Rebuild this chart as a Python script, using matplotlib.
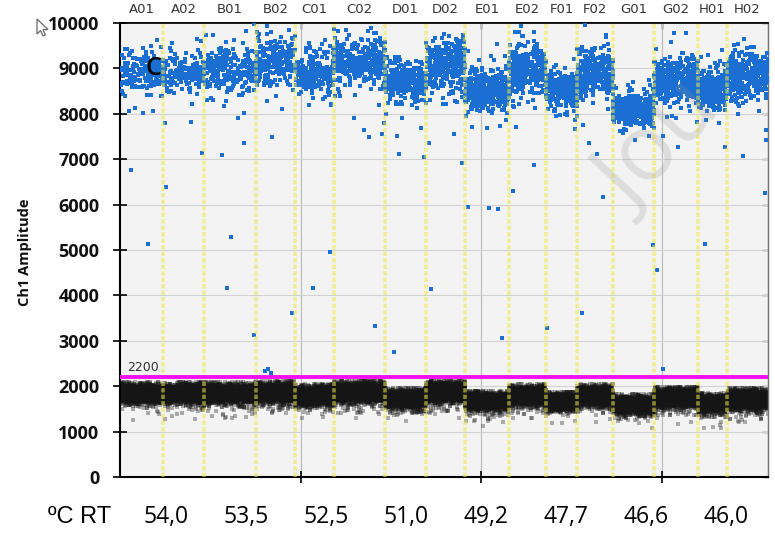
import numpy as np
import matplotlib
matplotlib.use('Agg')
import matplotlib.pyplot as plt
from matplotlib.patches import Polygon

# ---------------- data ----------------
wells = ['A01', 'A02', 'B01', 'B02', 'C01', 'C02', 'D01', 'D02',
         'E01', 'E02', 'F01', 'F02', 'G01', 'G02', 'H01', 'H02']
# droplet events per well (x axis = event number)
well_events = [4760, 4540, 5760, 4320, 4320, 5650, 4540, 4320,
               4870, 4100, 3430, 3990, 4540, 4870, 3210, 4540]
# positive (blue) droplet clusters
pos_center = [8950, 8900, 8950, 9150, 8900, 9150, 8700, 9100,
              8500, 8950, 8500, 8900, 8100, 8750, 8500, 8850]
pos_sd = [230, 230, 240, 260, 230, 260, 230, 270,
          220, 270, 220, 260, 160, 240, 210, 260]
pos_count = [170, 160, 230, 210, 240, 320, 270, 280,
             360, 290, 230, 290, 380, 360, 240, 330]
# negative (black) droplet clusters
neg_center = [1850, 1850, 1850, 1870, 1800, 1870, 1730, 1880,
              1680, 1800, 1670, 1800, 1600, 1750, 1630, 1720]
neg_sd = [95, 95, 95, 100, 95, 100, 90, 100,
          85, 100, 85, 100, 90, 95, 90, 100]
# isolated positive droplets (well, position inside well, amplitude)
out_well = ['A01', 'A01', 'A01', 'A01', 'A01', 'A02', 'A02', 'A02',
            'B01', 'B01', 'B01', 'B01', 'B01',
            'B02', 'B02', 'B02', 'B02', 'B02',
            'C01', 'C01', 'C02', 'C02', 'C02', 'C02', 'C02',
            'D01', 'D01', 'D01', 'D01', 'D01', 'D01',
            'D02', 'D02', 'D02',
            'E01', 'E01', 'E01', 'E01', 'E01', 'E01',
            'E02', 'E02', 'F01',
            'F02', 'F02', 'F02', 'F02',
            'G01', 'G02', 'G02', 'G02', 'G02',
            'H01', 'H01', 'H02', 'H02', 'H02', 'H02']
out_frac = [0.26, 0.65, 0.35, 0.53, 0.77, 0.07, 0.95, 0.68,
            0.35, 0.44, 0.52, 0.77, 0.96,
            0.23, 0.31, 0.38, 0.41, 0.92,
            0.46, 0.90, 0.39, 0.59, 0.69, 0.94, 0.80,
            0.22, 0.29, 0.34, 0.41, 0.88, 0.95,
            0.08, 0.13, 0.92,
            0.07, 0.50, 0.55, 0.75, 0.80, 0.84,
            0.11, 0.68, 0.03,
            0.14, 0.33, 0.56, 0.72,
            0.98, 0.07, 0.20, 0.20, 0.55,
            0.24, 0.93, 0.39, 0.93, 0.95, 0.96]
out_amp = [6760, 5130, 8130, 8020, 8060, 6390, 7140, 7820,
           7090, 4160, 5290, 7360, 3130,
           2340, 2380, 2300, 7490, 3610,
           4160, 4960, 7900, 7640, 7500, 7560, 3330,
           2750, 7510, 7110, 7900, 7680, 7050,
           7350, 4140, 6920,
           5950, 7690, 5930, 5900, 7730, 3060,
           6300, 6870, 3280,
           3610, 7360, 7110, 6170,
           5110, 4560, 2380, 7510, 7270,
           5130, 7270, 7070, 6250, 7420, 7640]
threshold = 2200
temp_header = 'ºC RT'
temps = ['54,0', '53,5', '52,5', '51,0', '49,2', '47,7', '46,6', '46,0']
y_ticks = [0, 1000, 2000, 3000, 4000, 5000, 6000, 7000, 8000, 9000, 10000]
event_ticks = [20000, 40000, 60000]

# ---------------- figure ----------------
W, H = 775, 533
fig = plt.figure(figsize=(W / 100, H / 100), dpi=100)
fig.patch.set_facecolor('white')
ax = fig.add_axes([120 / W, 1 - 477 / H, 648 / W, 454 / H])
ax.set_facecolor('#f3f3f3')

edges = np.concatenate([[0], np.cumsum(well_events)])
total = edges[-1]
ax.set_xlim(0, total)
ax.set_ylim(0, 10000)

rng = np.random.default_rng(7)

# negative droplets
for i, w in enumerate(wells):
    n = int(well_events[i] * 0.5)
    x = rng.uniform(edges[i], edges[i + 1], n)
    core = rng.normal(neg_center[i], neg_sd[i], n)
    tail_mask = rng.random(n) < 0.10
    core[tail_mask] = neg_center[i] - np.abs(rng.normal(0, 1.7 * neg_sd[i], tail_mask.sum()))
    far = rng.random(n) < 0.002
    core[far] = neg_center[i] - rng.uniform(280, 600, far.sum())
    core = np.minimum(core, neg_center[i] + 2.5 * neg_sd[i])
    ax.scatter(x, core, s=5, marker='s', c='#151515', alpha=0.33,
               linewidths=0, zorder=2)

# positive droplets
for i, w in enumerate(wells):
    n = pos_count[i]
    x = rng.uniform(edges[i], edges[i + 1], n)
    y = rng.normal(pos_center[i], pos_sd[i], n)
    wide = rng.random(n) < 0.12
    y[wide] = rng.normal(pos_center[i], 1.9 * pos_sd[i], wide.sum())
    ax.scatter(x, y, s=5.5, marker='s', c='#1b6fd2', linewidths=0, zorder=3)

idx = [wells.index(w) for w in out_well]
ox = [edges[k] + f * well_events[k] for k, f in zip(idx, out_frac)]
ax.scatter(ox, out_amp, s=5.5, marker='s', c='#1b6fd2', linewidths=0, zorder=3)

# well separators
for b in edges[1:-1]:
    ax.axvline(b, color='#efe84a', alpha=0.55, lw=2.6, ls=(0, (1.2, 0.6)), zorder=4)

# threshold
ax.axhline(threshold, color='#f010f0', lw=2.8, zorder=5)
ax.text(edges[0] + 0.011 * total, threshold + 60, str(threshold), fontsize=9,
        color='#333333', ha='left', va='bottom', zorder=6)

# grid
ax.set_yticks(y_ticks)
ax.set_xticks(event_ticks)
ax.grid(axis='y', color='#d2d2d2', lw=0.8, zorder=0)
ax.grid(axis='x', color='#b8b8b8', lw=0.8, zorder=0)
ax.set_axisbelow(True)
ax.set_xticklabels([])
ax.tick_params(axis='x', direction='inout', length=9, width=1.2, color='black')
ax.tick_params(axis='y', direction='inout', length=10, width=1.2, color='black', pad=10)
for lab in ax.get_yticklabels():
    lab.set_fontfamily('Open Sans')
    lab.set_fontweight('bold')
    lab.set_fontsize(13)
    lab.set_color('#111111')

for s in ['left', 'bottom']:
    ax.spines[s].set_linewidth(1.5)
    ax.spines[s].set_color('black')
ax.spines['top'].set_linewidth(1.2)
ax.spines['top'].set_color('black')
ax.spines['right'].set_linewidth(1.0)
ax.spines['right'].set_color('#777777')

top = ax.secondary_xaxis('top')
top.set_xticks(event_ticks)
top.tick_params(direction='in', length=4, width=1.0, labeltop=False)
top.spines['top'].set_linewidth(1.2)
right = ax.secondary_yaxis('right')
right.set_yticks(y_ticks)
right.tick_params(direction='in', length=4, width=1.0, color='#555555', labelright=False)
right.spines['right'].set_color('#777777')

# well labels on top
for i, w in enumerate(wells):
    ax.text((edges[i] + edges[i + 1]) / 2, 10000 + 160, w, ha='center', va='bottom',
            fontsize=9.5, color='#333333', family='DejaVu Sans')

# panel letter
ax.text(edges[0] + 0.051 * total, 9000, 'C', ha='center', va='center',
        fontsize=18, color='black', family='Open Sans', fontweight='semibold', zorder=7)

# axis label
fig.text(25 / W, 1 - 252 / H, 'Ch1 Amplitude', rotation=90, ha='center', va='center',
         fontsize=10.5, fontweight='bold', family='Open Sans', color='#111111')

# temperature row
fig.text(80 / W, 1 - 517 / H, temp_header, ha='center', va='center',
         fontsize=17, family='Liberation Sans', color='black')
for k, t in enumerate(temps):
    fig.text((166 + 80 * k) / W, 1 - 517 / H, t, ha='center', va='center',
             fontsize=16.5, family='Open Sans', color='black')

# watermark
fig.text(632 / W, 1 - 214 / H, 'Jou', rotation=47, rotation_mode='anchor',
         ha='left', va='baseline', fontsize=66, family='Open Sans', color='#909090',
         alpha=0.22, zorder=10)

# cursor icon
cur = np.array([[0, 0], [0, 15], [3.5, 11.5], [6, 17], [8.5, 16], [6, 10.5], [11, 10.5]])
cur_px = np.column_stack([37 + cur[:, 0], H - (19 + cur[:, 1])])
fig.patches.append(Polygon(cur_px, closed=True, facecolor='white', edgecolor='#666666',
                           lw=0.9, transform=None, figure=fig))

fig.savefig('out.png', dpi=100)
